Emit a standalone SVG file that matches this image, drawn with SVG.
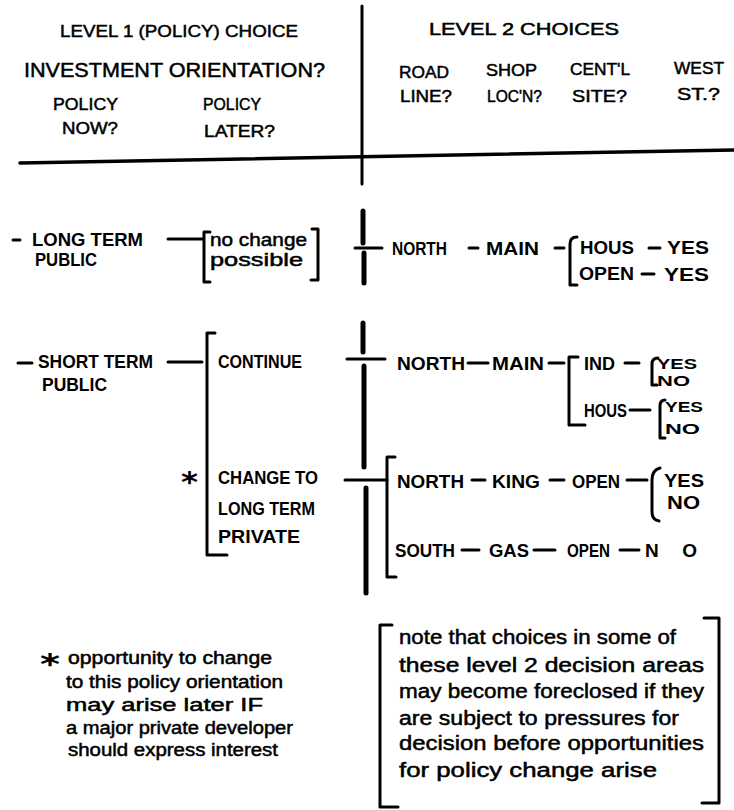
<svg xmlns="http://www.w3.org/2000/svg" width="734" height="810" viewBox="0 0 734 810">
<style>
text{font-family:"Liberation Sans",Arial,sans-serif;fill:#000}
.h{font-size:17px;stroke:#000;stroke-width:0.5}
.hb{font-size:21px;stroke:#000;stroke-width:0.5}
.l{font-size:19px;font-weight:bold}
.s{font-size:14px;font-weight:bold}
.w{font-size:18px;stroke:#000;stroke-width:0.5}
.n{font-size:20px;stroke:#000;stroke-width:0.5}
.ast{font-family:"DejaVu Sans",sans-serif;font-weight:bold;font-size:28px}
.c line,.c path{stroke:#000;stroke-width:3;fill:none;stroke-linecap:round;stroke-linejoin:round}
.c .bar{stroke-width:5}
</style>
<rect width="734" height="810" fill="#fff"/>

<g id="connectors" class="c">
  <line x1="362" y1="6" x2="362" y2="184"/>
  <line x1="20" y1="163" x2="734" y2="150" style="stroke-width:3.5"/>
  <!-- row 1 -->
  <line x1="13" y1="240" x2="20" y2="240"/>
  <line x1="168" y1="239" x2="203" y2="239"/>
  <path d="M210,232 L204,232 L204,282 L210,282"/>
  <path d="M312,229 L318,229 L318,280 L311,280"/>
  <line class="bar" x1="363" y1="211" x2="363" y2="243"/>
  <line class="bar" x1="364" y1="253" x2="364" y2="283"/>
  <line x1="355" y1="248" x2="382" y2="248"/>
  <line x1="469" y1="248" x2="478" y2="248"/>
  <line x1="555" y1="248" x2="564" y2="248"/>
  <path d="M577,237 Q570,237 570,244 L570,285 L577,285"/>
  <line x1="649" y1="248" x2="660" y2="248"/>
  <line x1="642" y1="274" x2="654" y2="274"/>
  <!-- row 2 -->
  <line x1="18" y1="363" x2="32" y2="363"/>
  <line x1="168" y1="362" x2="202" y2="362"/>
  <path d="M215,333 L207,333 L207,555 L227,555"/>
  <line class="bar" x1="363" y1="323" x2="363" y2="352"/>
  <line class="bar" x1="364" y1="366" x2="364" y2="467"/>
  <line class="bar" x1="366" y1="488" x2="366" y2="593"/>
  <line x1="347" y1="359" x2="385" y2="359"/>
  <line x1="345" y1="480" x2="387" y2="480"/>
  <path d="M395,457 L387,457 L387,577 L396,577"/>
  <line x1="468" y1="363" x2="488" y2="363"/>
  <line x1="549" y1="363" x2="564" y2="363"/>
  <path d="M578,357 L569,357 L569,425 L585,425"/>
  <line x1="625" y1="363" x2="639" y2="363"/>
  <path d="M658,358 Q652,358 652,364 L652,385 L657,385"/>
  <line x1="630" y1="410" x2="650" y2="410"/>
  <path d="M665,400 Q660,400 660,406 L660,438 L665,438"/>
  <line x1="472" y1="480" x2="485" y2="480"/>
  <line x1="550" y1="480" x2="564" y2="480"/>
  <line x1="627" y1="480" x2="647" y2="480"/>
  <path d="M660,468 Q652,470 652,480 L652,512 Q652,520 659,521"/>
  <line x1="462" y1="550" x2="479" y2="550"/>
  <line x1="534" y1="550" x2="555" y2="550"/>
  <line x1="620" y1="550" x2="639" y2="550"/>
  <!-- note bracket -->
  <path d="M392,625 L380,625 L380,807 L398,807"/>
  <path d="M704,618 L719,618 L719,803 L702,803"/>
</g>

<g id="header-level1">
  <text class="h" x="60" y="37" textLength="238" lengthAdjust="spacingAndGlyphs">LEVEL 1 (POLICY) CHOICE</text>
  <text class="hb" x="24" y="77" textLength="301" lengthAdjust="spacingAndGlyphs">INVESTMENT ORIENTATION?</text>
</g>
<g id="header-policy-now">
  <text class="h" x="53" y="110" textLength="65" lengthAdjust="spacingAndGlyphs">POLICY</text>
  <text class="h" x="62" y="134" textLength="56" lengthAdjust="spacingAndGlyphs">NOW?</text>
</g>
<g id="header-policy-later">
  <text class="h" x="203" y="110" textLength="58" lengthAdjust="spacingAndGlyphs">POLICY</text>
  <text class="h" x="204" y="137" textLength="71" lengthAdjust="spacingAndGlyphs">LATER?</text>
</g>
<g id="header-level2">
  <text class="h" x="429" y="35" textLength="190" lengthAdjust="spacingAndGlyphs">LEVEL 2 CHOICES</text>
</g>
<g id="header-road">
  <text class="h" x="399" y="78" textLength="50" lengthAdjust="spacingAndGlyphs">ROAD</text>
  <text class="h" x="400" y="102" textLength="52" lengthAdjust="spacingAndGlyphs">LINE?</text>
</g>
<g id="header-shop">
  <text class="h" x="486" y="76" textLength="51" lengthAdjust="spacingAndGlyphs">SHOP</text>
  <text class="h" x="487" y="102" textLength="55" lengthAdjust="spacingAndGlyphs">LOC'N?</text>
</g>
<g id="header-centl">
  <text class="h" x="570" y="75" textLength="60" lengthAdjust="spacingAndGlyphs">CENT'L</text>
  <text class="h" x="572" y="102" textLength="55" lengthAdjust="spacingAndGlyphs">SITE?</text>
</g>
<g id="header-west">
  <text class="h" x="674" y="74" textLength="50" lengthAdjust="spacingAndGlyphs">WEST</text>
  <text class="h" x="677" y="100" textLength="43" lengthAdjust="spacingAndGlyphs">ST.?</text>
</g>

<g id="long-term-public">
  <text class="l" x="32" y="246" textLength="111" lengthAdjust="spacingAndGlyphs">LONG TERM</text>
  <text class="l" x="35" y="266" textLength="62" lengthAdjust="spacingAndGlyphs">PUBLIC</text>
</g>
<g id="no-change">
  <text class="w" x="210" y="246" textLength="97" lengthAdjust="spacingAndGlyphs">no change</text>
  <text class="w" x="210" y="266" textLength="93" lengthAdjust="spacingAndGlyphs">possible</text>
</g>
<g id="r1-north"><text class="l" x="392" y="255" textLength="55" lengthAdjust="spacingAndGlyphs">NORTH</text></g>
<g id="r1-main"><text class="l" x="486" y="255" textLength="53" lengthAdjust="spacingAndGlyphs">MAIN</text></g>
<g id="r1-hous"><text class="l" x="580" y="254" textLength="54" lengthAdjust="spacingAndGlyphs">HOUS</text></g>
<g id="r1-hous-yes"><text class="l" x="667" y="254" textLength="42" lengthAdjust="spacingAndGlyphs">YES</text></g>
<g id="r1-open"><text class="l" x="579" y="280" textLength="55" lengthAdjust="spacingAndGlyphs">OPEN</text></g>
<g id="r1-open-yes"><text class="l" x="664" y="281" textLength="45" lengthAdjust="spacingAndGlyphs">YES</text></g>

<g id="short-term-public">
  <text class="l" x="38" y="368" textLength="115" lengthAdjust="spacingAndGlyphs">SHORT TERM</text>
  <text class="l" x="42" y="391" textLength="65" lengthAdjust="spacingAndGlyphs">PUBLIC</text>
</g>
<g id="continue"><text class="l" x="218" y="368" textLength="84" lengthAdjust="spacingAndGlyphs">CONTINUE</text></g>
<g id="change-to">
  <text class="ast" x="181" y="492" textLength="17" lengthAdjust="spacingAndGlyphs">*</text>
  <text class="l" x="218" y="484" textLength="100" lengthAdjust="spacingAndGlyphs">CHANGE TO</text>
  <text class="l" x="218" y="515" textLength="97" lengthAdjust="spacingAndGlyphs">LONG TERM</text>
  <text class="l" x="218" y="543" textLength="82" lengthAdjust="spacingAndGlyphs">PRIVATE</text>
</g>
<g id="r2-north"><text class="l" x="397" y="370" textLength="68" lengthAdjust="spacingAndGlyphs">NORTH</text></g>
<g id="r2-main"><text class="l" x="492" y="370" textLength="52" lengthAdjust="spacingAndGlyphs">MAIN</text></g>
<g id="r2-ind"><text class="l" x="584" y="370" textLength="31" lengthAdjust="spacingAndGlyphs">IND</text></g>
<g id="r2-ind-opts">
  <text class="s" x="657" y="369" textLength="40" lengthAdjust="spacingAndGlyphs">YES</text>
  <text class="s" x="657" y="386" textLength="33" lengthAdjust="spacingAndGlyphs">NO</text>
</g>
<g id="r2-hous"><text class="l" x="584" y="417" textLength="43" lengthAdjust="spacingAndGlyphs">HOUS</text></g>
<g id="r2-hous-opts">
  <text class="s" x="665" y="412" textLength="38" lengthAdjust="spacingAndGlyphs">YES</text>
  <text class="s" x="665" y="434" textLength="35" lengthAdjust="spacingAndGlyphs">NO</text>
</g>
<g id="r3-north"><text class="l" x="397" y="488" textLength="67" lengthAdjust="spacingAndGlyphs">NORTH</text></g>
<g id="r3-king"><text class="l" x="492" y="488" textLength="48" lengthAdjust="spacingAndGlyphs">KING</text></g>
<g id="r3-open"><text class="l" x="572" y="488" textLength="48" lengthAdjust="spacingAndGlyphs">OPEN</text></g>
<g id="r3-open-opts">
  <text class="l" x="664" y="487" textLength="40" lengthAdjust="spacingAndGlyphs">YES</text>
  <text class="l" x="667" y="509" textLength="33" lengthAdjust="spacingAndGlyphs">NO</text>
</g>
<g id="r4-south"><text class="l" x="395" y="557" textLength="60" lengthAdjust="spacingAndGlyphs">SOUTH</text></g>
<g id="r4-gas"><text class="l" x="489" y="557" textLength="40" lengthAdjust="spacingAndGlyphs">GAS</text></g>
<g id="r4-open"><text class="l" x="567" y="557" textLength="43" lengthAdjust="spacingAndGlyphs">OPEN</text></g>
<g id="r4-no"><text class="l" x="645" y="557" textLength="52" lengthAdjust="spacing">NO</text></g>

<g id="note-left">
  <text class="ast" x="40" y="674" textLength="20" lengthAdjust="spacingAndGlyphs">*</text>
  <text class="w" x="68" y="664" textLength="204" lengthAdjust="spacingAndGlyphs">opportunity to change</text>
  <text class="w" x="66" y="688" textLength="217" lengthAdjust="spacingAndGlyphs">to this policy orientation</text>
  <text class="w" x="66" y="711" textLength="197" lengthAdjust="spacingAndGlyphs">may arise later IF</text>
  <text class="w" x="66" y="734" textLength="227" lengthAdjust="spacingAndGlyphs">a major private developer</text>
  <text class="w" x="68" y="756" textLength="210" lengthAdjust="spacingAndGlyphs">should express interest</text>
</g>
<g id="note-right">
  <text class="n" x="399" y="644" textLength="277" lengthAdjust="spacingAndGlyphs">note that choices in some of</text>
  <text class="n" x="399" y="672" textLength="305" lengthAdjust="spacingAndGlyphs">these level 2 decision areas</text>
  <text class="n" x="399" y="698" textLength="305" lengthAdjust="spacingAndGlyphs">may become foreclosed if they</text>
  <text class="n" x="399" y="725" textLength="280" lengthAdjust="spacingAndGlyphs">are subject to pressures for</text>
  <text class="n" x="399" y="750" textLength="305" lengthAdjust="spacingAndGlyphs">decision before opportunities</text>
  <text class="n" x="399" y="777" textLength="258" lengthAdjust="spacingAndGlyphs">for policy change arise</text>
</g>
</svg>
